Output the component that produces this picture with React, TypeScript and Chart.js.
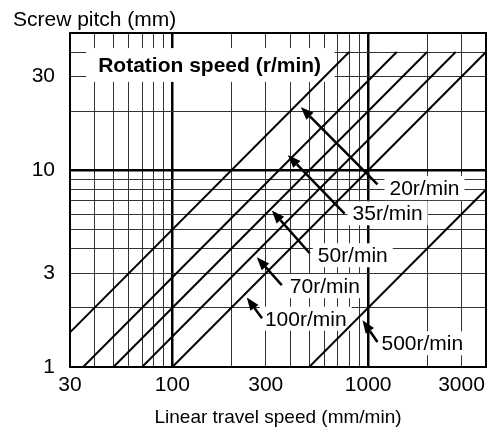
import React, { useEffect, useRef } from 'react';
import { Chart, registerables } from 'chart.js';
Chart.register(...registerables);

// Axis grid values and tick labels
const xGridValues = [30, 40, 50, 60, 70, 80, 90, 100, 200, 300, 400, 500, 600, 700, 800, 900, 1000, 2000, 3000, 4000];
const xTickLabels = [30, 100, 300, 1000, 3000];
const xMajor = [100, 1000];
const yGridValues = [1, 2, 3, 4, 5, 6, 7, 8, 9, 10, 20, 30, 40, 50];
const yTickLabels = [1, 3, 10, 30];
const yMajor = [10];

// Rotation-speed lines (endpoints)
const rpmNames = ['20r/min', '35r/min', '50r/min', '70r/min', '100r/min', '500r/min'];
const lineStartSpeed = [30, 35, 50, 70, 100, 500];
const lineStartPitch = [1.5, 1, 1, 1, 1, 1];
const lineEndSpeed = [800, 1400, 2000, 2800, 4000, 4000];
const lineEndPitch = [40, 40, 40, 40, 40, 8];

// Arrow annotations (data coordinates)
const arrowTipSpeed = [453, 389, 322, 270, 240, 936];
const arrowTipPitch = [21.0, 11.97, 6.26, 3.62, 2.26, 1.73];
const arrowTailSpeed = [1116, 758, 503, 362, 287, 1116];
const arrowTailPitch = [8.5, 6.03, 3.79, 2.61, 1.77, 1.34];
const labelSpeed = [1285, 833, 553, 398, 297, 1170];
const labelPitch = [8.13, 6.05, 3.7, 2.58, 1.76, 1.32];

const legendTitle = 'Rotation speed (r/min)';
const xTitle = 'Linear travel speed (mm/min)';
const yTitle = 'Screw pitch (mm)';

const FONT = '"Liberation Sans", Arial, Helvetica, sans-serif';

const annotPlugin = {
  id: 'annot',
  beforeDatasetsDraw(chart: any) {
    const { ctx, scales } = chart;
    const xs = scales.x, ys = scales.y;
    ctx.save();
    // title box
    const bx0 = xs.getPixelForValue(36.3), bx1 = xs.getPixelForValue(674);
    const by0 = ys.getPixelForValue(41.9), by1 = ys.getPixelForValue(28.2);
    ctx.fillStyle = '#fff';
    ctx.fillRect(bx0, by0, bx1 - bx0, by1 - by0);
    ctx.fillStyle = '#000';
    ctx.font = 'bold 21px ' + FONT;
    ctx.textBaseline = 'middle';
    ctx.textAlign = 'left';
    ctx.fillText(legendTitle, xs.getPixelForValue(41.8), ys.getPixelForValue(34.0));
    // labels
    ctx.font = '21px ' + FONT;
    rpmNames.forEach((name, i) => {
      const lx = xs.getPixelForValue(labelSpeed[i]);
      const ly = ys.getPixelForValue(labelPitch[i]);
      const w = ctx.measureText(name).width;
      ctx.fillStyle = '#fff';
      ctx.fillRect(lx - 5, ly - 12, w + 10, 24);
      ctx.fillStyle = '#000';
      ctx.fillText(name, lx, ly + 1);
    });
    ctx.restore();
  },
  afterDatasetsDraw(chart: any) {
    const { ctx, scales, chartArea } = chart;
    const xs = scales.x, ys = scales.y;
    ctx.save();
    ctx.strokeStyle = '#000';
    ctx.fillStyle = '#000';
    rpmNames.forEach((_, i) => {
      const tx = xs.getPixelForValue(arrowTipSpeed[i]);
      const ty = ys.getPixelForValue(arrowTipPitch[i]);
      const sx = xs.getPixelForValue(arrowTailSpeed[i]);
      const sy = ys.getPixelForValue(arrowTailPitch[i]);
      const ang = Math.atan2(ty - sy, tx - sx);
      const hl = 13, hw = 5;
      const bxp = tx - hl * Math.cos(ang), byp = ty - hl * Math.sin(ang);
      ctx.lineWidth = 2.5;
      ctx.beginPath();
      ctx.moveTo(sx, sy);
      ctx.lineTo(bxp, byp);
      ctx.stroke();
      ctx.beginPath();
      ctx.moveTo(tx, ty);
      ctx.lineTo(bxp + hw * Math.sin(ang), byp - hw * Math.cos(ang));
      ctx.lineTo(bxp - hw * Math.sin(ang), byp + hw * Math.cos(ang));
      ctx.closePath();
      ctx.fill();
    });
    // border
    ctx.lineWidth = 2;
    ctx.strokeRect(chartArea.left, chartArea.top, chartArea.right - chartArea.left, chartArea.bottom - chartArea.top);
    ctx.restore();
  },
  afterDraw(chart: any) {
    const { ctx, chartArea } = chart;
    ctx.save();
    ctx.fillStyle = '#000';
    ctx.font = '21px ' + FONT;
    ctx.textBaseline = 'middle';
    ctx.textAlign = 'left';
    ctx.fillText(yTitle, 13, 20);
    ctx.font = '19px ' + FONT;
    ctx.textAlign = 'center';
    ctx.fillText(xTitle, (chartArea.left + chartArea.right) / 2, 418);
    ctx.restore();
  },
};

export default function App() {
  const ref = useRef<HTMLCanvasElement | null>(null);
  useEffect(() => {
    if (!ref.current) return;
    Chart.defaults.font.family = FONT;
    const datasets = rpmNames.map((name, i) => ({
      label: name,
      data: [
        { x: lineStartSpeed[i], y: lineStartPitch[i] },
        { x: lineEndSpeed[i], y: lineEndPitch[i] },
      ],
      borderColor: '#000',
      borderWidth: 2,
      pointRadius: 0,
      showLine: true,
      fill: false,
    }));
    const chart = new Chart(ref.current, {
      type: 'scatter',
      data: { datasets },
      plugins: [annotPlugin],
      options: {
        animation: false,
        responsive: false,
        events: [],
        layout: { padding: { top: 33, right: 5, bottom: 0, left: 0 } },
        plugins: { legend: { display: false }, tooltip: { enabled: false } },
        scales: {
          x: {
            type: 'logarithmic',
            min: 30,
            max: 4000,
            afterBuildTicks: (s: any) => { s.ticks = xGridValues.map((v) => ({ value: v })); },
            afterFit: (s: any) => { s.height = 65; },
            border: { display: false },
            grid: {
              drawTicks: false,
              color: (c: any) => (xMajor.includes(c.tick?.value) ? '#000' : '#333'),
              lineWidth: (c: any) => (xMajor.includes(c.tick?.value) ? 2.5 : 1),
            },
            ticks: {
              autoSkip: false,
              maxRotation: 0,
              padding: 6,
              color: '#000',
              font: { size: 21 },
              callback: (v: any) => (xTickLabels.includes(Number(v)) ? String(v) : ''),
            },
          },
          y: {
            type: 'logarithmic',
            min: 1,
            max: 50,
            afterBuildTicks: (s: any) => { s.ticks = yGridValues.map((v) => ({ value: v })); },
            afterFit: (s: any) => { s.width = 70; },
            border: { display: false },
            grid: {
              drawTicks: false,
              color: (c: any) => (yMajor.includes(c.tick?.value) ? '#000' : '#333'),
              lineWidth: (c: any) => (yMajor.includes(c.tick?.value) ? 2.5 : 1),
            },
            ticks: {
              autoSkip: false,
              padding: 15,
              color: '#000',
              font: { size: 21 },
              callback: (v: any) => (yTickLabels.includes(Number(v)) ? String(v) : ''),
            },
          },
        },
      },
    } as any);
    return () => chart.destroy();
  }, []);
  return (
    <div style={{ position: 'fixed', left: 0, top: 0, width: 492, height: 432, background: '#fff' }}>
      <canvas ref={ref} width={492} height={432} style={{ display: 'block', width: 492, height: 432 }} />
    </div>
  );
}
